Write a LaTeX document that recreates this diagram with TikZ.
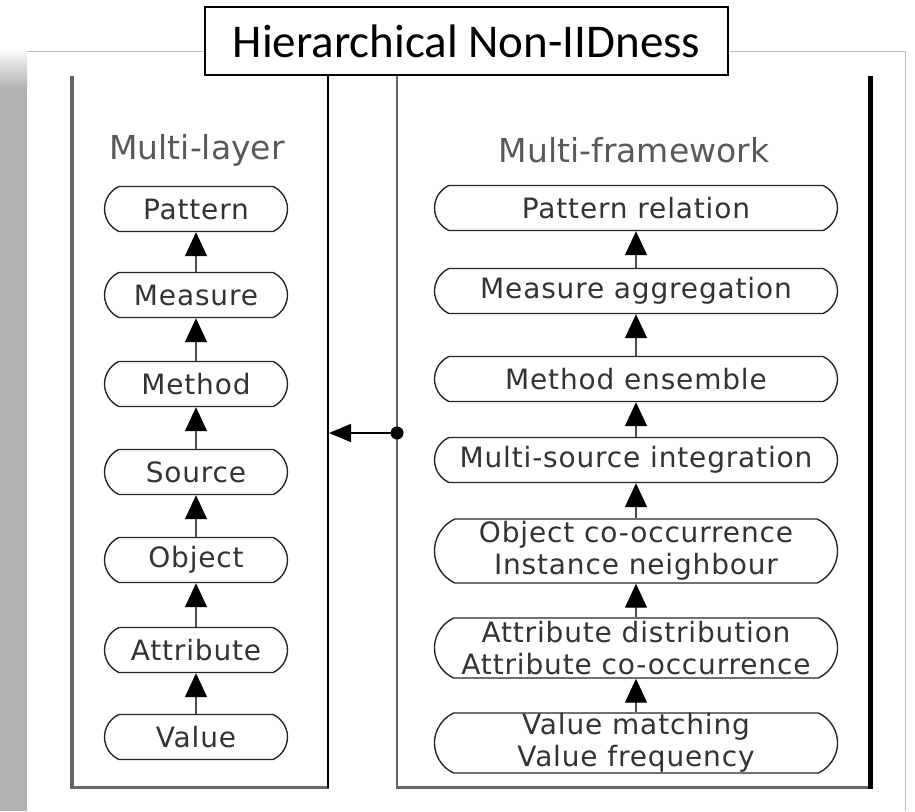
\documentclass[tikz,border=0pt]{standalone}
\usepackage{fontspec}
\setmainfont{DejaVu Sans}
\newfontfamily\titlefont{Carlito}
\newfontfamily\stagefont[LetterSpace=3]{DejaVu Sans}
\usetikzlibrary{shapes.misc,arrows.meta}

\begin{document}
\begin{tikzpicture}[x=1pt,y=-1pt,
  stage/.style={draw=black!85, line width=1.4pt, rounded rectangle,
    rounded rectangle arc length=130, fill=white, text=black!80,
    font=\stagefont\fontsize{28}{32}\selectfont, align=center, inner sep=0pt},
  leftstage/.style={stage, minimum width=183pt, minimum height=45pt},
  rightstage/.style={stage, minimum width=403pt, minimum height=45pt},
  upward/.style={draw=black!70, line width=1.3pt,
    -{Triangle[width=22pt,length=24pt,color=black,fill=black]}},
  colhead/.style={text=black!65, font=\fontsize{33}{36}\selectfont},
]
\useasboundingbox (0,0) rectangle (915,811);

% page shadow on the left and page edges
\shade[top color=white, bottom color=black!30] (0,48) rectangle (27,88);
\fill[black!30] (0,88) rectangle (27,811);
\draw[black!25, line width=0.8pt] (27,51) -- (905,51) -- (905,811);

% left panel (open at the top)
\draw[black!60, line width=4pt] (72,76) -- (72,787);
\draw[black!60, line width=3pt] (70,787) -- (329,787);
\draw[black, line width=2pt] (328,76) -- (328,788);

% right panel (open at the top)
\draw[black!60, line width=2pt] (397,76) -- (397,787);
\draw[black!60, line width=3pt] (396,787) -- (872,787);
\draw[black, line width=5pt] (870,76) -- (870,789);

% title
\node[draw=black, line width=1.6pt, fill=white, minimum width=523pt,
  minimum height=68pt, inner sep=0pt, font=\titlefont\fontsize{47}{50}\selectfont]
  (title) at (466.5,41) {Hierarchical Non-IIDness};

% column headings
\node[colhead] (hl) at (197,150) {Multi-layer};
\node[colhead] (hr) at (634,150) {Multi-framework};

% multi-layer stack
\node[leftstage] (lpat) at (196,209) {Pattern};
\node[leftstage] (lmea) at (196,295) {Measure};
\node[leftstage] (lmet) at (196,384) {Method};
\node[leftstage] (lsrc) at (196,472) {Source};
\node[leftstage] (lobj) at (196,560) {Object};
\node[leftstage] (latt) at (196,650) {Attribute};
\node[leftstage] (lval) at (196,737) {Value};

% multi-framework stack
\node[rightstage] (rpat) at (636,208) {Pattern relation};
\node[rightstage] (rmea) at (636,291) {Measure aggregation};
\node[rightstage] (rmet) at (636,379) {Method ensemble};
\node[rightstage] (rsrc) at (636,460) {Multi-source integration};
\node[rightstage, minimum height=64pt] (robj) at (636,551)
  {Object co-occurrence\\Instance neighbour};
\node[rightstage, minimum height=60pt] (ratt) at (636,648)
  {Attribute distribution\\Attribute co-occurrence};
\node[rightstage, minimum height=60pt] (rval) at (636,743)
  {Value matching\\Value frequency};

% upward links
\foreach \a/\b in {lval/latt, latt/lobj, lobj/lsrc, lsrc/lmet, lmet/lmea, lmea/lpat,
                   rval/ratt, ratt/robj, robj/rsrc, rsrc/rmet, rmet/rmea, rmea/rpat}
  \draw[upward] (\a.north) -- (\b.south);

% link between the two panels
\node[circle, fill=black, inner sep=0pt, minimum size=13pt] (dot) at (397,433) {};
\coordinate (lend) at (329,433);
\draw[black, line width=1.8pt, -{Triangle[width=18pt,length=22pt]}] (dot.center) -- (lend);
\end{tikzpicture}
\end{document}
